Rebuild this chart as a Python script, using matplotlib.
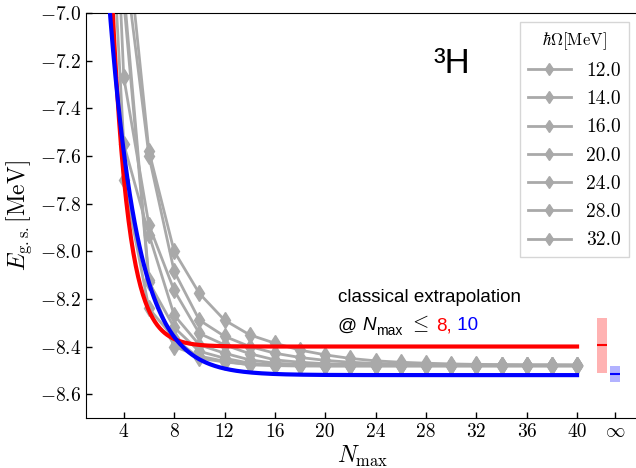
import numpy as np
import matplotlib
matplotlib.use("Agg")
import matplotlib.pyplot as plt

# 3H ground-state energy vs Nmax for several oscillator frequencies
NMAX = [2, 4, 6, 8, 10, 12, 14, 16, 18, 20, 22, 24, 26, 28, 30, 32, 34, 36, 38, 40]
HW_LABELS = ["12.0", "14.0", "16.0", "20.0", "24.0", "28.0", "32.0"]

E_HW12 = [-3.90, -6.55, -7.58, -8.000, -8.177, -8.289, -8.351, -8.386, -8.415, -8.435,
          -8.450, -8.460, -8.466, -8.470, -8.473, -8.475, -8.476, -8.477, -8.477, -8.478]
E_HW14 = [-4.40, -6.75, -7.60, -8.084, -8.289, -8.357, -8.400, -8.428, -8.446, -8.458,
          -8.466, -8.471, -8.474, -8.476, -8.477, -8.478, -8.478, -8.478, -8.478, -8.478]
E_HW16 = [-4.90, -7.27, -7.89, -8.164, -8.345, -8.393, -8.430, -8.456, -8.466, -8.472,
          -8.475, -8.477, -8.478, -8.478, -8.478, -8.478, -8.478, -8.478, -8.478, -8.478]
E_HW20 = [-5.60, -7.55, -7.93, -8.268, -8.393, -8.428, -8.456, -8.470, -8.475, -8.477,
          -8.478, -8.479, -8.479, -8.479, -8.479, -8.479, -8.479, -8.479, -8.479, -8.479]
E_HW24 = [-6.30, -7.70, -8.24, -8.365, -8.449, -8.465, -8.475, -8.478, -8.480, -8.480,
          -8.480, -8.480, -8.480, -8.480, -8.480, -8.480, -8.480, -8.480, -8.480, -8.480]
E_HW28 = [-5.90, -6.95, -8.13, -8.320, -8.420, -8.449, -8.470, -8.477, -8.479, -8.481,
          -8.481, -8.481, -8.481, -8.481, -8.481, -8.481, -8.481, -8.481, -8.481, -8.481]
E_HW32 = [-5.40, -6.90, -8.12, -8.400, -8.440, -8.462, -8.477, -8.480, -8.482, -8.482,
          -8.482, -8.482, -8.482, -8.482, -8.482, -8.482, -8.482, -8.482, -8.482, -8.482]
E_SERIES = [E_HW12, E_HW14, E_HW16, E_HW20, E_HW24, E_HW28, E_HW32]

# classical exponential extrapolation E(N) = E_inf + a*exp(-b*N), fits @ Nmax<=8 and <=10
FIT_RED = {"E_inf": -8.40, "a": 15.9, "b": 0.777}
FIT_BLUE = {"E_inf": -8.52, "a": 5.47, "b": 0.441}
FIT_NMIN, FIT_NMAX = 2.0, 40.0

# extrapolated values with uncertainty (plotted at "infinity")
INF_RED = {"center": -8.395, "err": 0.115}
INF_BLUE = {"center": -8.515, "err": 0.032}

X_TICKS = [4, 8, 12, 16, 20, 24, 28, 32, 36, 40, 43]
X_TICKLABELS = ["4", "8", "12", "16", "20", "24", "28", "32", "36", "40", r"$\infty$"]
Y_TICKS = [-8.6, -8.4, -8.2, -8.0, -7.8, -7.6, -7.4, -7.2, -7.0]

plt.rcParams["font.family"] = "serif"
plt.rcParams["font.serif"] = ["cmr10", "DejaVu Serif"]
plt.rcParams["mathtext.fontset"] = "cm"
plt.rcParams["axes.formatter.use_mathtext"] = True
plt.rcParams["axes.unicode_minus"] = True

GRAY = "#a9a9a9"
SANS = "Liberation Sans"

fig = plt.figure(figsize=(6.36, 4.68), dpi=100)
ax = fig.add_axes([86 / 636, 50 / 468, (640 - 86) / 636, 405 / 468])

for lab, e in zip(HW_LABELS, E_SERIES):
    ax.plot(NMAX, e, color=GRAY, lw=2, marker="d", ms=8, label=lab, zorder=2)

n = np.linspace(FIT_NMIN, FIT_NMAX, 400)
for fit, col in [(FIT_RED, "red"), (FIT_BLUE, "blue")]:
    ax.plot(n, fit["E_inf"] + fit["a"] * np.exp(-fit["b"] * n), color=col, lw=3, zorder=3)

for inf, col, x0 in [(INF_RED, "red", 41.6), (INF_BLUE, "blue", 42.6)]:
    ax.fill_between([x0, x0 + 0.8], inf["center"] - inf["err"], inf["center"] + inf["err"],
                    color=col, alpha=0.3, lw=0)
    ax.hlines(inf["center"], x0, x0 + 0.8, color=col, lw=1.5)

ax.set_xlim(1, 45)
ax.set_ylim(-8.7, -7.0)
ax.set_xticks(X_TICKS)
ax.set_xticklabels(X_TICKLABELS)
ax.set_yticks(Y_TICKS)
ax.tick_params(direction="in", length=4, labelsize=14, width=1)
ax.set_xlabel(r"$N_{\max}$", fontsize=17, labelpad=2)
ax.set_ylabel(r"$E_{\rm g.s.}[\rm MeV]$", fontsize=17, labelpad=4)

ax.text(0.66, 0.875, "\u00b3H", transform=ax.transAxes, fontsize=25,
        family=SANS, ha="center", va="center")

# annotation built from pieces so colours and styles can change mid-line
ax.text(21.0, -8.215, "classical extrapolation", fontsize=13.5, family=SANS, va="baseline")
t1 = ax.text(21.0, -8.332, "@ ", fontsize=13.5, family=SANS, va="baseline")
t2 = ax.annotate("N", xy=(1, 0), xycoords=t1, fontsize=13.5, family=SANS,
                 fontstyle="italic", va="bottom")
t3 = ax.annotate("max", xy=(1, 0), xycoords=t2, xytext=(0, -2.5), textcoords="offset points",
                 fontsize=10, family=SANS, va="bottom")
t4 = ax.annotate(r"$\leq$", xy=(1, 0), xycoords=t3, xytext=(5, 2.5), textcoords="offset points",
                 fontsize=15, va="bottom")
t5 = ax.annotate("8,", xy=(1, 0), xycoords=t4, xytext=(5, 0), textcoords="offset points",
                 fontsize=13.5, family=SANS, color="red", va="bottom")
ax.annotate(" 10", xy=(1, 0), xycoords=t5, fontsize=13.5, family=SANS, color="blue", va="bottom")

leg = ax.legend(loc="upper right", bbox_to_anchor=(0.98, 0.977), borderaxespad=0,
                title=r"$\hbar\Omega[\rm MeV]$", fontsize=14, title_fontsize=12,
                fancybox=False, edgecolor="#cccccc", handlelength=2.2,
                labelspacing=0.53, markerscale=0.8)
leg.get_frame().set_linewidth(1)

fig.savefig("out.png", dpi=100)
